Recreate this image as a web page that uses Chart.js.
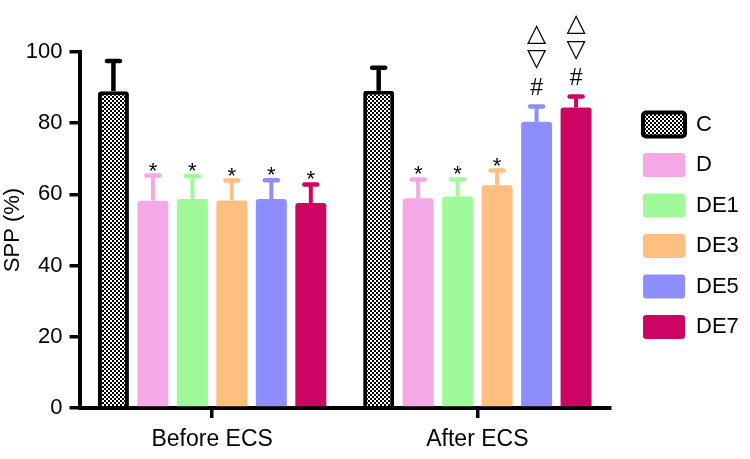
<!DOCTYPE html>
<html>
<head>
<meta charset="utf-8">
<script src="https://cdn.jsdelivr.net/npm/chart.js@4.4.1/dist/chart.umd.min.js"></script>
<style>
  html, body { margin: 0; padding: 0; background: #fff; }
  #wrap { width: 750px; height: 459px; position: relative; }
</style>
</head>
<body>
<div id="wrap"><canvas id="sppChart"></canvas></div>
<script>
// groups on the x axis
const categories = ['Before ECS', 'After ECS'];
const seriesNames = ['C', 'D', 'DE1', 'DE3', 'DE5', 'DE7'];

// SPP (%) means, [before, after]
const sppC   = [89.0, 89.1];
const sppD   = [58.2, 58.9];
const sppDE1 = [58.7, 59.4];
const sppDE3 = [58.3, 62.6];
const sppDE5 = [58.7, 80.4];
const sppDE7 = [57.6, 84.4];

// upper error bars
const errC   = [8.5, 6.5];
const errD   = [7.1, 5.3];
const errDE1 = [6.5, 4.8];
const errDE3 = [5.6, 4.1];
const errDE5 = [5.3, 4.3];
const errDE7 = [5.2, 3.1];

// significance marks above each bar, bottom to top
const markC   = [[], []];
const markD   = [['*'], ['*']];
const markDE1 = [['*'], ['*']];
const markDE3 = [['*'], ['*']];
const markDE5 = [['*'], ['#', '▽', '△']];
const markDE7 = [['*'], ['#', '▽', '△']];

const yTicks = [0, 20, 40, 60, 80, 100];

const seriesColors = ['#000000', '#F5A8E6', '#A0FA9A', '#FFBF80', '#8E8EFF', '#CC0563'];

Chart.defaults.font.family = "'Liberation Sans', Arial, sans-serif";
Chart.defaults.color = '#000';

function checkerPattern() {
    const c = document.createElement('canvas');
    c.width = 4; c.height = 4;
    const g = c.getContext('2d');
    g.fillStyle = '#fff'; g.fillRect(0, 0, 4, 4);
    g.fillStyle = '#000'; g.fillRect(0, 0, 2, 2); g.fillRect(2, 2, 2, 2);
    return g.createPattern(c, 'repeat');
}

const errorBars = {
    id: 'errorBars',
    afterDatasetsDraw(chart) {
        const { ctx } = chart;
        const y = chart.scales.y;
        chart.data.datasets.forEach((ds, i) => {
            const meta = chart.getDatasetMeta(i);
            const col = seriesColors[i];
            meta.data.forEach((bar, j) => {
                const top = y.getPixelForValue(ds.data[j] + ds.errors[j]);
                ctx.save();
                ctx.strokeStyle = col;
                ctx.lineWidth = i === 0 ? 4.5 : 4;
                ctx.beginPath();
                ctx.moveTo(bar.x, bar.y);
                ctx.lineTo(bar.x, top);
                ctx.stroke();
                ctx.lineWidth = 4.5;
                ctx.lineCap = 'round';
                ctx.beginPath();
                ctx.moveTo(bar.x - 6.5, top);
                ctx.lineTo(bar.x + 6.5, top);
                ctx.stroke();

                // marks
                ctx.fillStyle = '#000';
                ctx.textAlign = 'center';
                ctx.textBaseline = 'alphabetic';
                let cy = top;
                ds.marks[j].forEach((m, k) => {
                    if (m === '*') {
                        ctx.font = "22px 'Liberation Sans', Arial, sans-serif";
                        ctx.fillText(m, bar.x, top + 2);
                        cy = top - 12;
                    } else if (m === '#') {
                        ctx.font = "23px 'Liberation Sans', Arial, sans-serif";
                        ctx.fillText(m, bar.x, top - 11.5);
                        cy = top - 19.5;
                    } else {
                        cy -= (k === 1 ? 27 : 25.5);
                        ctx.font = "25px 'DejaVu Sans', sans-serif";
                        ctx.textBaseline = 'middle';
                        ctx.fillText(m, bar.x, cy);
                        ctx.textBaseline = 'alphabetic';
                    }
                });
                ctx.restore();
            });
        });
    }
};

const allValues = [sppC, sppD, sppDE1, sppDE3, sppDE5, sppDE7];
const allErrors = [errC, errD, errDE1, errDE3, errDE5, errDE7];
const allMarks  = [markC, markD, markDE1, markDE3, markDE5, markDE7];

const datasets = seriesNames.map((name, i) => ({
    label: name,
    data: allValues[i],
    errors: allErrors[i],
    marks: allMarks[i],
    backgroundColor: i === 0 ? checkerPattern() : seriesColors[i],
    borderColor: '#000',
    borderWidth: i === 0 ? 4 : 0,
    borderRadius: 3,
    borderSkipped: 'start',
    categoryPercentage: 0.893,
    barPercentage: 0.785
}));

const ctx = document.getElementById('sppChart').getContext('2d');
new Chart(ctx, {
    type: 'bar',
    data: { labels: categories, datasets: datasets },
    plugins: [errorBars],
    options: {
        responsive: true,
        maintainAspectRatio: false,
        animation: false,
        layout: { padding: { left: 0, right: 1.2, top: 0, bottom: 7.5 } },
        plugins: {
            legend: {
                position: 'right',
                align: 'center',
                labels: { boxWidth: 42, boxHeight: 24, padding: 16.5, font: { size: 22 }, color: '#000', useBorderRadius: true, borderRadius: 3 }
            },
            tooltip: { enabled: false }
        },
        scales: {
            x: {
                offset: true,
                grid: { display: true, offset: false, drawOnChartArea: false, tickLength: 10, lineWidth: 3.5, color: '#000' },
                border: { display: true, width: 4, color: '#000' },
                ticks: { font: { size: 23 }, padding: 8, color: '#000' },
                afterFit: s => { s.height = 43.5; }
            },
            xPad: {
                type: 'linear', axis: 'x', position: 'top', display: true,
                grid: { display: false }, border: { display: false }, ticks: { display: false },
                afterFit: s => { s.height = 52; }
            },
            y: {
                min: 0, max: 100,
                afterBuildTicks: s => { s.ticks = yTicks.map(v => ({ value: v })); },
                ticks: { font: { size: 22 }, padding: 7, color: '#000' },
                grid: { display: true, drawOnChartArea: false, tickLength: 10, lineWidth: 3.5, color: '#000' },
                border: { display: true, width: 4, color: '#000' },
                title: { display: true, text: 'SPP (%)', font: { size: 22 }, padding: { top: 0, bottom: 0 }, color: '#000' },
                afterFit: s => { s.width = 79.5; }
            },
            yPad: {
                type: 'linear', axis: 'y', position: 'right', display: true,
                grid: { display: false }, border: { display: false }, ticks: { display: false },
                afterFit: s => { s.width = 16.5; }
            }
        }
    }
});
</script>
</body>
</html>
